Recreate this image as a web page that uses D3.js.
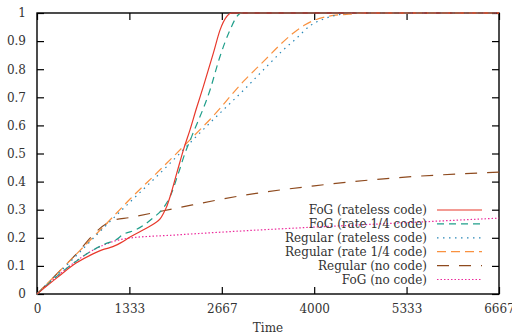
<!DOCTYPE html>
<html>
<head>
<meta charset="utf-8">
<script src="https://cdn.jsdelivr.net/npm/d3@7"></script>
<style>
  body { margin: 0; background: #fff; }
  svg text { font-family: "DejaVu Serif", serif; fill: #333; }
</style>
</head>
<body>
<div id="chart"></div>
<script>

// Chart values: [time, fraction]

const fogRateless = [[0,0],[300,0.06],[564,0.11],[800,0.142],[950,0.158],[1050,0.165],[1127,0.172],[1200,0.181],
  [1343,0.203],[1584,0.235],[1700,0.252],[1776,0.267],[1820,0.285],[1870,0.31],[1921,0.347],[2017,0.43],
  [2113,0.513],[2209,0.585],[2300,0.66],[2401,0.739],[2546,0.858],[2642,0.94],[2739,0.988],[2811,1],[6667,1]];

const fogRate14 = [[0,0],[500,0.105],[800,0.155],[1000,0.18],[1141,0.193],[1238,0.211],[1430,0.229],
  [1671,0.27],[1824,0.306],[1921,0.347],[2041,0.43],[2137,0.502],[2233,0.561],[2498,0.727],[2642,0.846],
  [2786,0.94],[2906,0.994],[2950,1],[6667,1]];

const regRateless = [[0,0],[500,0.12],[1000,0.245],[1333,0.325],[1776,0.43],[2000,0.485],[2257,0.55],
  [2500,0.61],[3000,0.73],[3364,0.822],[3556,0.869],[3749,0.911],[3941,0.955],[4110,0.976],[4350,0.994],
  [4550,1],[6667,1]];

const regRate14 = [[0,0],[500,0.125],[1000,0.25],[1343,0.338],[1776,0.442],[2000,0.497],[2353,0.585],
  [2500,0.622],[3000,0.762],[3291,0.833],[3508,0.887],[3700,0.929],[3869,0.958],[3989,0.973],[4200,0.988],
  [4500,0.996],[4700,1],[6667,1]];

const regNoCode = [[0,0],[500,0.125],[1000,0.25],[1100,0.262],[1333,0.272],[2000,0.305],[3000,0.352],
  [4000,0.385],[5000,0.41],[6667,0.434]];

const fogNoCode = [[0,0],[500,0.105],[800,0.155],[1000,0.178],[1141,0.19],[1300,0.198],[2000,0.21],
  [3000,0.225],[4000,0.238],[5000,0.25],[6667,0.27]];

const seriesNames = ["FoG (rateless code)", "FoG (rate 1/4 code)", "Regular (rateless code)",
  "Regular (rate 1/4 code)", "Regular (no code)", "FoG (no code)"];
const seriesData = [fogRateless, fogRate14, regRateless, regRate14, regNoCode, fogNoCode];

const xTicks = [0, 1333, 2667, 4000, 5333, 6667];
const yTicks = [0, 0.1, 0.2, 0.3, 0.4, 0.5, 0.6, 0.7, 0.8, 0.9, 1];

// Styles for each series (colour, dash)
const colors = ["#e8382b", "#1f9e8a", "#2a88b8", "#f9913f", "#8e4a1e", "#ec2a9c"];
const dashes = [null, "7,5", "1.5,4.5", "9,5", "12,10", "1.5,2"];

const width = 512;
const height = 335;
const margin = {top: 13, right: 13, bottom: 41, left: 37};
const fontSize = "12px";

const svg = d3.select("#chart")
    .append("svg")
    .attr("width", width)
    .attr("height", height);

const x = d3.scaleLinear()
    .domain([0, 6667])
    .range([margin.left, width - margin.right]);

const y = d3.scaleLinear()
    .domain([0, 1])
    .range([height - margin.bottom, margin.top]);

// Axes with inward ticks, mirrored on top and right
svg.append("g")
    .attr("transform", `translate(0,${height - margin.bottom})`)
    .call(d3.axisBottom(x).tickValues(xTicks).tickSizeInner(-7).tickSizeOuter(0).tickPadding(10).tickFormat(d3.format("d")))
    .call(g => g.select(".domain").remove());

svg.append("g")
    .attr("transform", `translate(0,${margin.top})`)
    .call(d3.axisTop(x).tickValues(xTicks).tickSizeInner(-7).tickSizeOuter(0).tickFormat(""))
    .call(g => g.select(".domain").remove());

svg.append("g")
    .attr("transform", `translate(${margin.left},0)`)
    .call(d3.axisLeft(y).tickValues(yTicks).tickSizeInner(-7).tickSizeOuter(0).tickPadding(11).tickFormat(d => d3.format("")(+d.toFixed(1))))
    .call(g => g.select(".domain").remove());

svg.append("g")
    .attr("transform", `translate(${width - margin.right},0)`)
    .call(d3.axisRight(y).tickValues(yTicks).tickSizeInner(-7).tickSizeOuter(0).tickFormat(""))
    .call(g => g.select(".domain").remove());

svg.selectAll(".tick line").attr("stroke", "#000").attr("stroke-width", 1.2);
svg.selectAll(".tick text").attr("font-size", fontSize).attr("fill", "#333")
    .attr("font-family", null);
svg.selectAll("g").attr("font-family", null).attr("font-size", fontSize);

// Plot frame
svg.append("rect")
    .attr("x", margin.left)
    .attr("y", margin.top)
    .attr("width", width - margin.left - margin.right)
    .attr("height", height - margin.top - margin.bottom)
    .attr("fill", "none")
    .attr("stroke", "#000")
    .attr("stroke-width", 1.4);

// Axis title
svg.append("text")
    .attr("x", (margin.left + width - margin.right) / 2)
    .attr("y", 332)
    .attr("text-anchor", "middle")
    .attr("font-size", fontSize)
    .text("Time");

const line = d3.line()
    .x(d => x(d[0]))
    .y(d => y(d[1]))
    .curve(d3.curveMonotoneX);

// Draw lines, last series first so the red one sits on top
const order = [5, 4, 3, 2, 1, 0];
svg.selectAll(".series")
    .data(order)
    .enter()
    .append("path")
      .attr("class", "series")
      .attr("d", i => line(seriesData[i]))
      .attr("fill", "none")
      .attr("stroke", i => colors[i])
      .attr("stroke-width", 1.2)
      .attr("stroke-dasharray", i => dashes[i]);

// Legend (no box)
const legend = svg.selectAll(".legend")
    .data(seriesNames)
    .enter()
    .append("g")
      .attr("class", "legend")
      .attr("transform", (d, i) => `translate(0,${210 + i * 13.9})`);

legend.append("text")
    .attr("x", 427)
    .attr("y", 0)
    .attr("dy", "0.35em")
    .attr("text-anchor", "end")
    .attr("font-size", fontSize)
    .text(d => d);

legend.append("line")
    .attr("x1", 437)
    .attr("x2", 482)
    .attr("y1", 0)
    .attr("y2", 0)
    .attr("stroke", (d, i) => colors[i])
    .attr("stroke-width", 1.2)
    .attr("stroke-dasharray", (d, i) => dashes[i]);

</script>
</body>
</html>
